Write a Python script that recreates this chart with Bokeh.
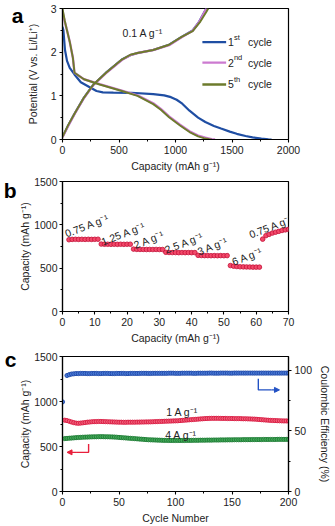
import math
from bokeh.plotting import figure
from bokeh.layouts import column
from bokeh.models import (Range1d, LinearAxis, SingleIntervalTicker, FixedTicker, Label, Arrow,
                          NormalHead)
from bokeh.embed import file_html
from bokeh.resources import INLINE

FONT = "Liberation Sans"
TXT = "#222222"

# ---------------- panel a data ----------------
c1_dis_cap = [0, 8, 22, 40, 64, 106, 162, 245, 301, 357, 450, 608, 803, 900, 960, 1010, 1060, 1124,
              1200, 1264, 1340, 1403, 1480, 1542, 1620, 1682, 1760, 1822, 1850]
c1_dis_v = [2.58, 2.50, 2.05, 1.80, 1.64, 1.49, 1.31, 1.19, 1.11, 1.08, 1.075, 1.07, 1.04, 1.01, 0.97,
            0.91, 0.82, 0.66, 0.50, 0.40, 0.31, 0.25, 0.18, 0.13, 0.08, 0.05, 0.02, 0.005, 0.0]
c1_chg_cap = [0, 50, 106, 190, 274, 385, 525, 600, 664, 803, 943, 1054, 1152, 1210, 1264, 1272]
c1_chg_v = [0.06, 0.32, 0.59, 0.96, 1.26, 1.53, 1.83, 1.93, 1.98, 2.05, 2.17, 2.35, 2.50, 2.70, 2.96, 3.0]

c2_dis_cap = [0, 20, 36, 64, 92, 106, 190, 329, 525, 664, 803, 870, 943, 1040, 1124, 1200, 1264, 1320, 1350]
c2_dis_v = [2.93, 2.70, 2.54, 2.24, 1.87, 1.53, 1.38, 1.27, 1.12, 1.01, 0.83, 0.70, 0.53, 0.34, 0.19, 0.09,
            0.04, 0.008, 0.0]
c2_chg_cap = [0, 50, 106, 190, 274, 385, 525, 600, 664, 803, 943, 1054, 1152, 1210, 1264, 1275]
c2_chg_v = [0.05, 0.31, 0.58, 0.95, 1.25, 1.52, 1.82, 1.93, 1.98, 2.05, 2.16, 2.34, 2.49, 2.69, 2.95, 3.0]

c5_dis_cap = [0, 20, 36, 64, 92, 106, 190, 329, 525, 664, 803, 870, 943, 1040, 1124, 1200, 1250, 1300, 1320]
c5_dis_v = [3.0, 2.72, 2.54, 2.24, 1.87, 1.53, 1.38, 1.26, 1.11, 1.00, 0.81, 0.68, 0.51, 0.32, 0.17, 0.07,
            0.03, 0.005, 0.0]
c5_chg_cap = [0, 50, 106, 190, 274, 385, 525, 600, 664, 803, 943, 1054, 1152, 1220, 1275, 1290]
c5_chg_v = [0.06, 0.33, 0.59, 0.96, 1.26, 1.53, 1.83, 1.94, 1.98, 2.05, 2.17, 2.35, 2.48, 2.70, 2.93, 3.0]

# ---------------- panel b data ----------------
rate_cycles = list(range(2, 71))
rate_capacity = [828, 832, 833, 832, 833, 832, 833, 832, 833, 834,
                 778, 776, 776, 775, 776, 775, 776, 775, 776, 776,
                 720, 717, 716, 716, 715, 716, 715, 716, 715, 715,
                 683, 681, 680, 680, 679, 680, 679, 680, 679, 680,
                 648, 646, 645, 645, 644, 645, 644, 645, 644, 645,
                 530, 523, 519, 516, 515, 514, 513, 512, 512, 512,
                 835, 875, 890, 905, 915, 925, 935, 942, 948]
rate_labels = ["0.75 A g\u207b\u00b9", "1.25 A g\u207b\u00b9", "2 A g\u207b\u00b9", "2.5 A g\u207b\u00b9",
               "3 A g\u207b\u00b9", "6 A g\u207b\u00b9", "0.75 A g\u207b\u00b9"]
rate_label_x = [0.9, 12.1, 22.2, 31.8, 41.9, 52.6, 57.9]
rate_label_y = [896, 803, 765, 709, 690, 571, 884]

# ---------------- panel c data ----------------
cyc_cycles = list(range(2, 201, 2))
cap_1A = [792, 788, 780, 772, 765,
          760, 758, 760, 763, 766,
          770, 772, 775, 776, 777, 778, 778, 777, 776, 775,
          774, 773, 772, 771, 770, 770, 769, 769, 770, 770,
          770, 770, 771, 771, 772, 772, 773, 773, 774, 775,
          776, 777, 778, 779, 780, 781, 782, 783, 784, 785,
          786, 788, 790, 792, 794, 796, 798, 800, 802, 804,
          806, 808, 810, 811, 812, 813, 813, 813, 813, 812,
          812, 812, 811, 811, 811, 810, 810, 810, 809, 808,
          808, 807, 806, 805, 804, 802, 800, 798, 796, 794,
          792, 790, 789, 788, 787, 786, 785, 784, 784, 783]
cap_4A = [588, 590, 592, 594, 596,
          598, 600, 601, 603, 604,
          605, 606, 607, 608, 608, 609, 609, 609, 608, 608,
          607, 606, 605, 603, 601, 599, 597, 595, 593, 591,
          589, 587, 585, 583, 581, 579, 577, 575, 574, 573,
          572, 571, 570, 569, 568, 568, 567, 567, 567, 567,
          567, 567, 567, 567, 568, 568, 568, 569, 569, 569,
          570, 570, 570, 571, 571, 571, 572, 572, 572, 573,
          573, 573, 574, 574, 574, 575, 575, 575, 575, 576,
          576, 576, 576, 577, 577, 577, 577, 577, 578, 578,
          578, 578, 578, 578, 579, 579, 579, 579, 579, 579]
ce_cycles = [0] + list(range(4, 201, 2))
ce_values = [74.0,
             95.8, 96.5, 97.0, 97.2, 97.4, 97.4, 97.5, 97.5, 97.5, 97.4,
             97.4, 97.5, 97.5, 97.5, 97.4, 97.4, 97.5, 97.5, 97.5, 97.4,
             97.4, 97.4, 97.5, 97.5, 97.5, 97.5, 97.4, 97.4, 97.5, 97.5,
             97.5, 97.5, 97.5, 97.6, 97.6, 97.6, 97.5, 97.5, 97.6, 97.6,
             97.6, 97.6, 97.6, 97.6, 97.6, 97.7, 97.7, 97.7, 97.6, 97.6,
             97.6, 97.7, 97.7, 97.7, 97.7, 97.7, 97.6, 97.6, 97.7, 97.7,
             97.7, 97.7, 97.7, 97.8, 97.8, 97.7, 97.7, 97.7, 97.8, 97.8,
             97.8, 97.8, 97.7, 97.7, 97.8, 97.8, 97.8, 97.8, 97.8, 97.8,
             97.8, 97.8, 97.8, 97.8, 97.8, 97.8, 97.8, 97.8, 97.8, 97.8,
             97.8, 97.8, 97.8, 97.8, 97.8, 97.8, 97.8, 97.8, 97.8]

panel_letters = ["a", "b", "c"]


def style_axis(ax, label_standoff=3, tick_standoff=3):
    ax.axis_line_color = "black"
    ax.axis_line_width = 1.2
    ax.major_tick_line_color = "black"
    ax.major_tick_line_width = 1.1
    ax.minor_tick_line_color = "black"
    ax.major_tick_in = 0
    ax.major_tick_out = 3
    ax.minor_tick_in = 0
    ax.minor_tick_out = 2
    ax.major_label_text_font = FONT
    ax.major_label_text_font_size = "10.5px"
    ax.major_label_text_color = TXT
    ax.major_label_standoff = tick_standoff
    ax.axis_label_text_font = FONT
    ax.axis_label_text_font_size = "10.5px"
    ax.axis_label_text_font_style = "normal"
    ax.axis_label_text_color = TXT
    ax.axis_label_standoff = label_standoff


def base_fig(w, h, xr, yr, left, right, top, bottom):
    p = figure(width=w, height=h, x_range=xr, y_range=yr, output_backend="svg",
               toolbar_location=None, min_border_left=left, min_border_right=right,
               min_border_top=top, min_border_bottom=bottom)
    p.xgrid.visible = False
    p.ygrid.visible = False
    p.outline_line_color = "black"
    p.outline_line_width = 1.2
    p.background_fill_color = "white"
    p.border_fill_color = "white"
    return p


def txt(p, x, y, text, size="10.5px", color=TXT, **kw):
    lab = Label(x=x, y=y, text=text, text_font=FONT, text_font_size=size, text_color=color, **kw)
    p.add_layout(lab)
    return lab


def letter_axis(p, top_value, letter):
    # an outer, line-less left axis whose only tick label is the panel letter
    ax = LinearAxis(ticker=FixedTicker(ticks=[top_value]),
                    major_label_overrides={top_value: letter})
    ax.axis_line_color = None
    ax.major_tick_line_color = None
    ax.minor_tick_line_color = None
    ax.major_tick_in = 0
    ax.major_tick_out = 0
    ax.minor_tick_in = 0
    ax.minor_tick_out = 0
    ax.major_label_text_font = FONT
    ax.major_label_text_font_size = "21px"
    ax.major_label_text_font_style = "bold"
    ax.major_label_text_color = "black"
    ax.major_label_standoff = 0
    p.add_layout(ax, "left")


# ================= panel a =================
pa = base_fig(335, 174, Range1d(0, 2000), Range1d(0, 3), 49, 47, 8, 33)
pa.xaxis.ticker = SingleIntervalTicker(interval=500, num_minor_ticks=2)
pa.yaxis.ticker = SingleIntervalTicker(interval=1, num_minor_ticks=2)
pa.xaxis.axis_label = "Capacity (mAh g\u207b\u00b9)"
pa.yaxis.axis_label = "Potential (V vs. Li/Li\u207a)"
style_axis(pa.xaxis[0], 3)
style_axis(pa.yaxis[0], 9)
letter_axis(pa, 3, panel_letters[0])

BLUE_A = "#1f4ea3"
PINK_A = "#cc7ad0"
OLIVE_A = "#6d7b2c"
pa.line(c1_dis_cap, c1_dis_v, line_color=BLUE_A, line_width=2.2)
pa.line(c1_chg_cap, c1_chg_v, line_color=BLUE_A, line_width=2.2)
pa.line(c2_dis_cap, c2_dis_v, line_color=PINK_A, line_width=2.4)
pa.line(c2_chg_cap, c2_chg_v, line_color=PINK_A, line_width=2.4)
pa.line(c5_dis_cap, c5_dis_v, line_color=OLIVE_A, line_width=1.9)
pa.line(c5_chg_cap, c5_chg_v, line_color=OLIVE_A, line_width=1.9)

txt(pa, 712, 2.44, "0.1 A g\u207b\u00b9", text_align="center", text_baseline="middle")

legend_rows = [("1", "st", BLUE_A, 2.23), ("2", "nd", PINK_A, 1.76), ("5", "th", OLIVE_A, 1.26)]
for num, sup, col, yy in legend_rows:
    pa.line([1238, 1448], [yy, yy], line_color=col, line_width=2.4)
    txt(pa, 1464, yy, num, text_align="left", text_baseline="middle")
    txt(pa, 1464, yy, sup, size="7.5px", text_align="left", text_baseline="middle",
        x_offset=6, y_offset=5)
    txt(pa, 1464, yy, "cycle", text_align="left", text_baseline="middle", x_offset=20)

# ================= panel b =================
pb = base_fig(335, 172, Range1d(0, 70), Range1d(0, 1500), 54, 39, 7, 31)
pb.xaxis.ticker = SingleIntervalTicker(interval=10, num_minor_ticks=2)
pb.yaxis.ticker = SingleIntervalTicker(interval=500, num_minor_ticks=2)
pb.xaxis.axis_label = "Capacity (mAh g\u207b\u00b9)"
pb.yaxis.axis_label = "Capacity (mAh g\u207b\u00b9)"
style_axis(pb.xaxis[0], 3)
style_axis(pb.yaxis[0], 0, 2)
letter_axis(pb, 1500, panel_letters[1])
pb.scatter(rate_cycles, rate_capacity, size=4.6, fill_color="#f2496a", line_color="#c41238",
           line_width=0.8)
for lx, ly, lt in zip(rate_label_x, rate_label_y, rate_labels):
    txt(pb, lx, ly, lt, text_align="left", text_baseline="alphabetic", angle=0.37)

# ================= panel c =================
pc = base_fig(335, 180, Range1d(0, 200), Range1d(0, 1500), 54, 40, 10, 34)
pc.extra_y_ranges = {"ce": Range1d(0, 111.5)}
pc.xaxis.ticker = SingleIntervalTicker(interval=50, num_minor_ticks=2)
pc.yaxis.ticker = SingleIntervalTicker(interval=500, num_minor_ticks=2)
pc.xaxis.axis_label = "Cycle Number"
pc.yaxis.axis_label = "Capacity (mAh g\u207b\u00b9)"
style_axis(pc.xaxis[0], 3)
style_axis(pc.yaxis[0], 0, 2)
letter_axis(pc, 1500, panel_letters[2])
rax = LinearAxis(y_range_name="ce", axis_label="Coulombic Efficiency (%)",
                 ticker=SingleIntervalTicker(interval=50, num_minor_ticks=2))
style_axis(rax, 4)
if "axis_label_orientation" in rax.properties():
    rax.axis_label_orientation = "vertical"
pc.add_layout(rax, "right")

pc.scatter(cyc_cycles, cap_1A, size=4.2, fill_color="#f0607a", line_color="#d8173f", line_width=0.9)
pc.scatter(cyc_cycles, cap_4A, size=4.2, fill_color="#45a85a", line_color="#1c7a33", line_width=0.9)
pc.scatter(ce_cycles, ce_values, y_range_name="ce", size=4.2, fill_color="#4a7ad6",
           line_color="#1f48a8", line_width=0.9)

txt(pc, 106, 882, "1 A g\u207b\u00b9", text_align="center", text_baseline="middle")
txt(pc, 105, 629, "4 A g\u207b\u00b9", text_align="center", text_baseline="middle")

RED_AR = "#e8203c"
BLUE_AR = "#2251c4"
pc.line([23.1, 23.1, 12], [527, 435, 435], line_color=RED_AR, line_width=1.4)
pc.add_layout(Arrow(end=NormalHead(size=5, fill_color=RED_AR, line_color=RED_AR),
                    x_start=12, y_start=435, x_end=4, y_end=435,
                    line_color=RED_AR, line_width=1.4))
pc.line([173.3, 173.3, 185], [1254, 1129, 1129], line_color=BLUE_AR, line_width=1.4)
pc.add_layout(Arrow(end=NormalHead(size=5, fill_color=BLUE_AR, line_color=BLUE_AR),
                    x_start=185, y_start=1129, x_end=192, y_end=1129,
                    line_color=BLUE_AR, line_width=1.4))

layout = column(pa, pb, pc, spacing=0)
open("out.html", "w").write(file_html(layout, INLINE))
